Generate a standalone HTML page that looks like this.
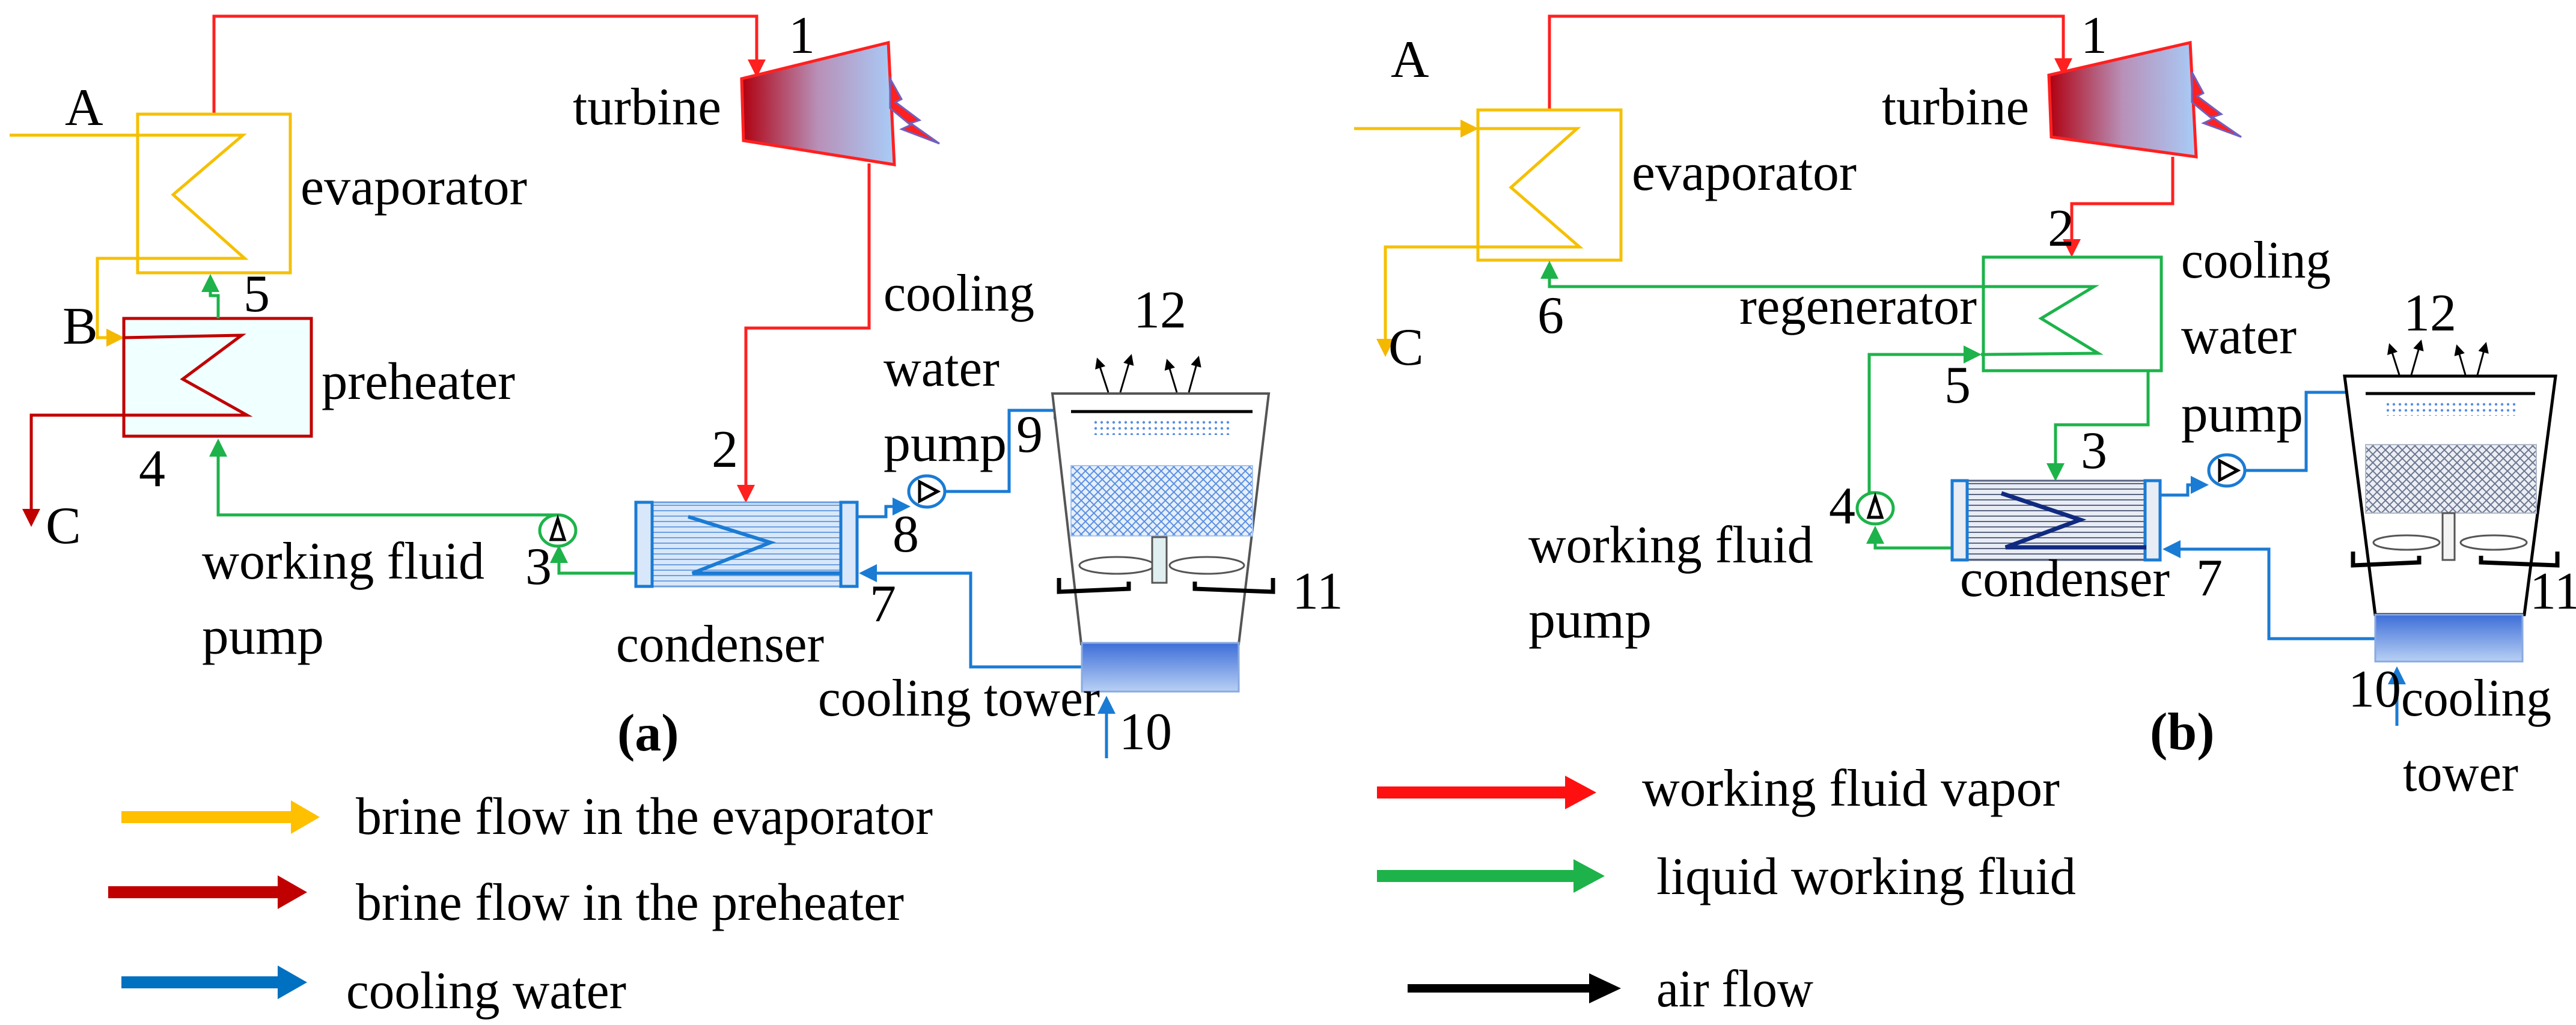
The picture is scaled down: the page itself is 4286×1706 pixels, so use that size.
<!DOCTYPE html>
<html><head><meta charset="utf-8"><style>
html,body{margin:0;padding:0;background:#fff;}
svg{display:block;}
text{font-family:"Liberation Serif",serif;font-size:88px;fill:#000;}
</style></head><body>
<svg width="4286" height="1706" viewBox="0 0 4286 1706" xmlns="http://www.w3.org/2000/svg">
<defs>
<marker id="mr" markerWidth="6" markerHeight="6" refX="5" refY="3" orient="auto" markerUnits="strokeWidth"><path d="M0,0 L6,3 L0,6 z" fill="#ff2020"/></marker>
<marker id="my" markerWidth="6" markerHeight="6" refX="5" refY="3" orient="auto" markerUnits="strokeWidth"><path d="M0,0 L6,3 L0,6 z" fill="#f5b800"/></marker>
<marker id="md" markerWidth="6" markerHeight="6" refX="5" refY="3" orient="auto" markerUnits="strokeWidth"><path d="M0,0 L6,3 L0,6 z" fill="#c00000"/></marker>
<marker id="mg" markerWidth="6" markerHeight="6" refX="5" refY="3" orient="auto" markerUnits="strokeWidth"><path d="M0,0 L6,3 L0,6 z" fill="#1db34a"/></marker>
<marker id="mb" markerWidth="6" markerHeight="6" refX="5" refY="3" orient="auto" markerUnits="strokeWidth"><path d="M0,0 L6,3 L0,6 z" fill="#1a7bd4"/></marker>
<marker id="mk" markerWidth="6" markerHeight="6" refX="5" refY="3" orient="auto" markerUnits="strokeWidth"><path d="M0,0 L6,3 L0,6 z" fill="#000"/></marker>
<linearGradient id="tg" x1="0" y1="0" x2="1" y2="0"><stop offset="0" stop-color="#b00010"/><stop offset="0.5" stop-color="#b890b8"/><stop offset="1" stop-color="#a8ccf8"/></linearGradient>
<linearGradient id="bg" x1="0" y1="0" x2="0" y2="1"><stop offset="0" stop-color="#3d6ed8"/><stop offset="1" stop-color="#b8d0f4"/></linearGradient>
<pattern id="hl" width="20" height="9" patternUnits="userSpaceOnUse"><rect width="20" height="9" fill="#d8e8fa"/><line x1="0" y1="4" x2="20" y2="4" stroke="#6d9fe0" stroke-width="2"/></pattern>
<pattern id="hd" width="20" height="9" patternUnits="userSpaceOnUse"><rect width="20" height="9" fill="#e8ecf4"/><line x1="0" y1="4" x2="20" y2="4" stroke="#5a6480" stroke-width="2"/></pattern>
<pattern id="xh" width="14" height="14" patternUnits="userSpaceOnUse"><rect width="14" height="14" fill="#e6effc"/><path d="M0,0 L14,14 M14,0 L0,14" stroke="#5a8fe0" stroke-width="2"/></pattern>
<pattern id="xg" width="14" height="14" patternUnits="userSpaceOnUse"><rect width="14" height="14" fill="#eceef4"/><path d="M0,0 L14,14 M14,0 L0,14" stroke="#6a7690" stroke-width="2"/></pattern>
<pattern id="dots" width="10" height="10" patternUnits="userSpaceOnUse"><circle cx="3" cy="3" r="2.2" fill="#5a8fe0"/></pattern>
</defs>

<!-- ================= LEFT (a) ================= -->
<polyline points="356,190 356,27 1259,27 1259,124" fill="none" stroke="#ff2020" stroke-width="5" marker-end="url(#mr)"/>
<polyline points="1446,272 1446,546 1241,546 1241,832" fill="none" stroke="#ff2020" stroke-width="5" marker-end="url(#mr)"/>
<polygon points="1234,131 1478,71 1488,274 1237,234" fill="url(#tg)" stroke="#ff2020" stroke-width="5"/>
<polygon points="1481,131 1500,165 1490,170 1530,200 1515,205 1563,239 1500,215 1515,208 1481,180" fill="#ff2020" stroke="#7060c0" stroke-width="3"/>
<rect x="229" y="190" width="254" height="264" fill="none" stroke="#f5c000" stroke-width="5"/>
<polyline points="16,225 404,225 288,324 407,430 162,430 162,562 202,562" fill="none" stroke="#f5c000" stroke-width="5" marker-end="url(#my)"/>
<rect x="206" y="530" width="312" height="196" fill="#f0ffff" stroke="#c00000" stroke-width="5"/>
<polyline points="206,562 402,558 304,631 411,691 52,691 52,872" fill="none" stroke="#c00000" stroke-width="5" marker-end="url(#md)"/>
<polyline points="363,530 363,492 350,492 350,461" fill="none" stroke="#1db34a" stroke-width="5" marker-end="url(#mg)"/>
<polyline points="928,857 363,857 363,735" fill="none" stroke="#1db34a" stroke-width="5" marker-end="url(#mg)"/>
<polyline points="1058,954 930,954 930,912" fill="none" stroke="#1db34a" stroke-width="5" marker-end="url(#mg)"/>
<ellipse cx="928" cy="883" rx="30" ry="26" fill="#fff" stroke="#1db34a" stroke-width="5"/>
<polygon points="928,864 917,898 939,898" fill="none" stroke="#000" stroke-width="5"/>
<rect x="1058" y="836" width="368" height="140" fill="url(#hl)" stroke="#6d9fe0" stroke-width="3"/>
<rect x="1058" y="836" width="27" height="140" fill="#d8e8fa" stroke="#1a7bd4" stroke-width="5"/>
<rect x="1399" y="836" width="27" height="140" fill="#d8e8fa" stroke="#1a7bd4" stroke-width="5"/>
<polyline points="1145,860 1282,903 1152,954 1398,954" fill="none" stroke="#1a7bd4" stroke-width="6"/>
<polyline points="1426,860 1474,860 1474,843 1510,843" fill="none" stroke="#1a7bd4" stroke-width="5" marker-end="url(#mb)"/>
<polyline points="1573,818 1679,818 1679,683 1778,683" fill="none" stroke="#1a7bd4" stroke-width="5" marker-end="url(#mb)"/>
<ellipse cx="1542" cy="818" rx="30" ry="26" fill="#fff" stroke="#1a7bd4" stroke-width="5"/>
<polygon points="1530,802 1530,834 1560,818" fill="none" stroke="#000" stroke-width="5"/>
<polyline points="1800,1110 1615,1110 1615,954 1434,954" fill="none" stroke="#1a7bd4" stroke-width="5" marker-end="url(#mb)"/>
<line x1="1841" y1="1262" x2="1841" y2="1163" stroke="#1a7bd4" stroke-width="5" marker-end="url(#mb)"/>
<polygon points="1751,655 2111,655 2061,1072 1799,1072" fill="#fff" stroke="#555" stroke-width="4"/>
<line x1="1782" y1="685" x2="2084" y2="685" stroke="#000" stroke-width="5"/>
<rect x="1818" y="698" width="230" height="26" fill="url(#dots)"/>
<rect x="1782" y="775" width="302" height="117" fill="url(#xh)" stroke="#a8c4f0" stroke-width="2"/>
<ellipse cx="1858" cy="941" rx="62" ry="14" fill="#fff" stroke="#555" stroke-width="3"/>
<ellipse cx="2008" cy="941" rx="62" ry="14" fill="#fff" stroke="#555" stroke-width="3"/>
<rect x="1917" y="894" width="24" height="76" fill="#e0f0f0" stroke="#555" stroke-width="3"/>
<polyline points="1762,962 1762,985 1878,980 1878,968" fill="none" stroke="#000" stroke-width="7"/>
<polyline points="1988,968 1988,980 2118,985 2118,962" fill="none" stroke="#000" stroke-width="7"/>
<rect x="1800" y="1070" width="261" height="81" fill="url(#bg)" stroke="#8aaae0" stroke-width="3"/>
<g stroke="#000" stroke-width="3" marker-end="url(#mk)">
<line x1="1844" y1="653" x2="1826" y2="598"/><line x1="1864" y1="653" x2="1882" y2="592"/>
<line x1="1958" y1="653" x2="1942" y2="600"/><line x1="1978" y1="653" x2="1994" y2="595"/>
</g>
<text x="1312" y="88">1</text>
<text x="953" y="207" textLength="247" lengthAdjust="spacingAndGlyphs">turbine</text>
<text x="108" y="208">A</text>
<text x="500" y="340" textLength="377" lengthAdjust="spacingAndGlyphs">evaporator</text>
<text x="405" y="518">5</text>
<text x="104" y="572">B</text>
<text x="535" y="664" textLength="322" lengthAdjust="spacingAndGlyphs">preheater</text>
<text x="231" y="809">4</text>
<text x="76" y="904">C</text>
<text x="874" y="972">3</text>
<text x="336" y="963" textLength="470" lengthAdjust="spacingAndGlyphs">working fluid</text>
<text x="336" y="1088" textLength="203" lengthAdjust="spacingAndGlyphs">pump</text>
<text x="1184" y="777">2</text>
<text x="1470" y="517" textLength="251" lengthAdjust="spacingAndGlyphs">cooling</text>
<text x="1470" y="642" textLength="193" lengthAdjust="spacingAndGlyphs">water</text>
<text x="1470" y="767" textLength="205" lengthAdjust="spacingAndGlyphs">pump</text>
<text x="1691" y="752">9</text>
<text x="1886" y="545">12</text>
<text x="1485" y="918">8</text>
<text x="1447" y="1034">7</text>
<text x="2150" y="1013">11</text>
<text x="1025" y="1101" textLength="346" lengthAdjust="spacingAndGlyphs">condenser</text>
<text x="1361" y="1191" textLength="469" lengthAdjust="spacingAndGlyphs">cooling tower</text>
<text x="1862" y="1247">10</text>
<text x="1027" y="1249" style="font-weight:bold">(a)</text>
<line x1="202" y1="1360" x2="490" y2="1360" stroke="#ffc000" stroke-width="20"/><polygon points="484,1332 532,1360 484,1388" fill="#ffc000"/>
<line x1="180" y1="1485" x2="470" y2="1485" stroke="#c00000" stroke-width="20"/><polygon points="462,1457 511,1485 462,1513" fill="#c00000"/>
<line x1="202" y1="1635" x2="470" y2="1635" stroke="#0070c0" stroke-width="20"/><polygon points="462,1607 511,1635 462,1663" fill="#0070c0"/>
<text x="592" y="1388" textLength="960" lengthAdjust="spacingAndGlyphs">brine flow in the evaporator</text>
<text x="592" y="1531" textLength="912" lengthAdjust="spacingAndGlyphs">brine flow in the preheater</text>
<text x="576" y="1678" textLength="466" lengthAdjust="spacingAndGlyphs">cooling water</text>

<!-- ================= RIGHT (b) ================= -->
<polyline points="2578,183 2578,27 3433,27 3433,122" fill="none" stroke="#ff2020" stroke-width="5" marker-end="url(#mr)"/>
<polyline points="3615,261 3615,339 3447,339 3447,423" fill="none" stroke="#ff2020" stroke-width="5" marker-end="url(#mr)"/>
<polygon points="3409,125 3644,71 3654,261 3413,228" fill="url(#tg)" stroke="#ff2020" stroke-width="5"/>
<polygon points="3647,120 3666,155 3656,160 3696,190 3681,195 3729,228 3666,205 3681,198 3647,170" fill="#ff2020" stroke="#7060c0" stroke-width="3"/>
<rect x="2459" y="183" width="238" height="250" fill="none" stroke="#f5c000" stroke-width="5"/>
<polyline points="2253,214 2455,214" fill="none" stroke="#f5c000" stroke-width="5" marker-end="url(#my)"/>
<polyline points="2459,214 2624,214 2514,312 2628,411 2305,411 2305,589" fill="none" stroke="#f5c000" stroke-width="5" marker-end="url(#my)"/>
<rect x="3300" y="428" width="296" height="189" fill="none" stroke="#1db34a" stroke-width="5"/>
<polyline points="3120,820 3110,820 3110,590 3292,590" fill="none" stroke="#1db34a" stroke-width="5" marker-end="url(#mg)"/>
<polyline points="3296,590 3491,588 3396,530 3484,477 2578,477 2578,439" fill="none" stroke="#1db34a" stroke-width="5" marker-end="url(#mg)"/>
<polyline points="3574,617 3574,707 3420,707 3420,796" fill="none" stroke="#1db34a" stroke-width="5" marker-end="url(#mg)"/>
<polyline points="3248,912 3120,912 3120,880" fill="none" stroke="#1db34a" stroke-width="5" marker-end="url(#mg)"/>
<ellipse cx="3120" cy="846" rx="30" ry="26" fill="#fff" stroke="#1db34a" stroke-width="5"/>
<polygon points="3120,827 3109,861 3131,861" fill="none" stroke="#000" stroke-width="5"/>
<rect x="3248" y="800" width="346" height="132" fill="url(#hd)" stroke="#5a6480" stroke-width="3"/>
<rect x="3248" y="800" width="25" height="132" fill="#e8ecf4" stroke="#1a7bd4" stroke-width="5"/>
<rect x="3569" y="800" width="25" height="132" fill="#e8ecf4" stroke="#1a7bd4" stroke-width="5"/>
<polyline points="3330,821 3461,865 3337,911 3571,911" fill="none" stroke="#102a80" stroke-width="7"/>
<polyline points="3594,824 3640,824 3640,807 3670,807" fill="none" stroke="#1a7bd4" stroke-width="5" marker-end="url(#mb)"/>
<polyline points="3736,783 3837,783 3837,653 3932,653" fill="none" stroke="#1a7bd4" stroke-width="5" marker-end="url(#mb)"/>
<ellipse cx="3705" cy="783" rx="30" ry="26" fill="#fff" stroke="#1a7bd4" stroke-width="5"/>
<polygon points="3693,767 3693,799 3723,783" fill="none" stroke="#000" stroke-width="5"/>
<polyline points="3952,1063 3775,1063 3775,914 3603,914" fill="none" stroke="#1a7bd4" stroke-width="5" marker-end="url(#mb)"/>
<line x1="3988" y1="1208" x2="3988" y2="1114" stroke="#1a7bd4" stroke-width="5" marker-end="url(#mb)"/>
<polygon points="3901,626 4252,626 4200,1023 3952,1023" fill="#fff" stroke="#000" stroke-width="5"/>
<line x1="3936" y1="655" x2="4218" y2="655" stroke="#000" stroke-width="5"/>
<rect x="3968" y="666" width="220" height="26" fill="url(#dots)"/>
<rect x="3936" y="740" width="284" height="114" fill="url(#xg)" stroke="#b0b8c8" stroke-width="2"/>
<ellipse cx="4004" cy="903" rx="55" ry="12" fill="#fff" stroke="#555" stroke-width="3"/>
<ellipse cx="4149" cy="903" rx="55" ry="12" fill="#fff" stroke="#555" stroke-width="3"/>
<rect x="4064" y="854" width="20" height="78" fill="#f4f4f4" stroke="#555" stroke-width="3"/>
<polyline points="3915,918 3915,941 4025,936 4025,925" fill="none" stroke="#000" stroke-width="7"/>
<polyline points="4128,925 4128,936 4255,941 4255,918" fill="none" stroke="#000" stroke-width="7"/>
<rect x="3952" y="1023" width="245" height="78" fill="url(#bg)" stroke="#8aaae0" stroke-width="3"/>
<g stroke="#000" stroke-width="3" marker-end="url(#mk)">
<line x1="3992" y1="624" x2="3976" y2="574"/><line x1="4012" y1="624" x2="4028" y2="568"/>
<line x1="4102" y1="624" x2="4088" y2="576"/><line x1="4122" y1="624" x2="4136" y2="572"/>
</g>
<text x="3462" y="88">1</text>
<text x="3131" y="207" textLength="245" lengthAdjust="spacingAndGlyphs">turbine</text>
<text x="2314" y="128">A</text>
<text x="2715" y="316" textLength="374" lengthAdjust="spacingAndGlyphs">evaporator</text>
<text x="2310" y="607">C</text>
<text x="3407" y="409">2</text>
<text x="2558" y="554">6</text>
<text x="2894" y="539" textLength="395" lengthAdjust="spacingAndGlyphs">regenerator</text>
<text x="3235" y="670">5</text>
<text x="3462" y="779">3</text>
<text x="3043" y="871">4</text>
<text x="2543" y="936" textLength="474" lengthAdjust="spacingAndGlyphs">working fluid</text>
<text x="2543" y="1061" textLength="205" lengthAdjust="spacingAndGlyphs">pump</text>
<text x="3261" y="992" textLength="349" lengthAdjust="spacingAndGlyphs">condenser</text>
<text x="3654" y="991">7</text>
<text x="3629" y="462" textLength="249" lengthAdjust="spacingAndGlyphs">cooling</text>
<text x="3629" y="588" textLength="192" lengthAdjust="spacingAndGlyphs">water</text>
<text x="3629" y="718" textLength="203" lengthAdjust="spacingAndGlyphs">pump</text>
<text x="3999" y="550">12</text>
<text x="4209" y="1013">11</text>
<text x="3907" y="1176">10</text>
<text x="3995" y="1191" textLength="250" lengthAdjust="spacingAndGlyphs">cooling</text>
<text x="3998" y="1316" textLength="192" lengthAdjust="spacingAndGlyphs">tower</text>
<text x="3577" y="1247" style="font-weight:bold">(b)</text>
<line x1="2291" y1="1319" x2="2610" y2="1319" stroke="#ff1010" stroke-width="20"/><polygon points="2604,1291 2656,1319 2604,1347" fill="#ff1010"/>
<line x1="2291" y1="1458" x2="2624" y2="1458" stroke="#1db34a" stroke-width="20"/><polygon points="2618,1430 2670,1458 2618,1486" fill="#1db34a"/>
<line x1="2342" y1="1645" x2="2650" y2="1645" stroke="#000" stroke-width="14"/><polygon points="2644,1620 2697,1645 2644,1670" fill="#000"/>
<text x="2732" y="1341" textLength="695" lengthAdjust="spacingAndGlyphs">working fluid vapor</text>
<text x="2756" y="1488" textLength="698" lengthAdjust="spacingAndGlyphs">liquid working fluid</text>
<text x="2756" y="1675" textLength="261" lengthAdjust="spacingAndGlyphs">air flow</text>
</svg>
</body></html>
